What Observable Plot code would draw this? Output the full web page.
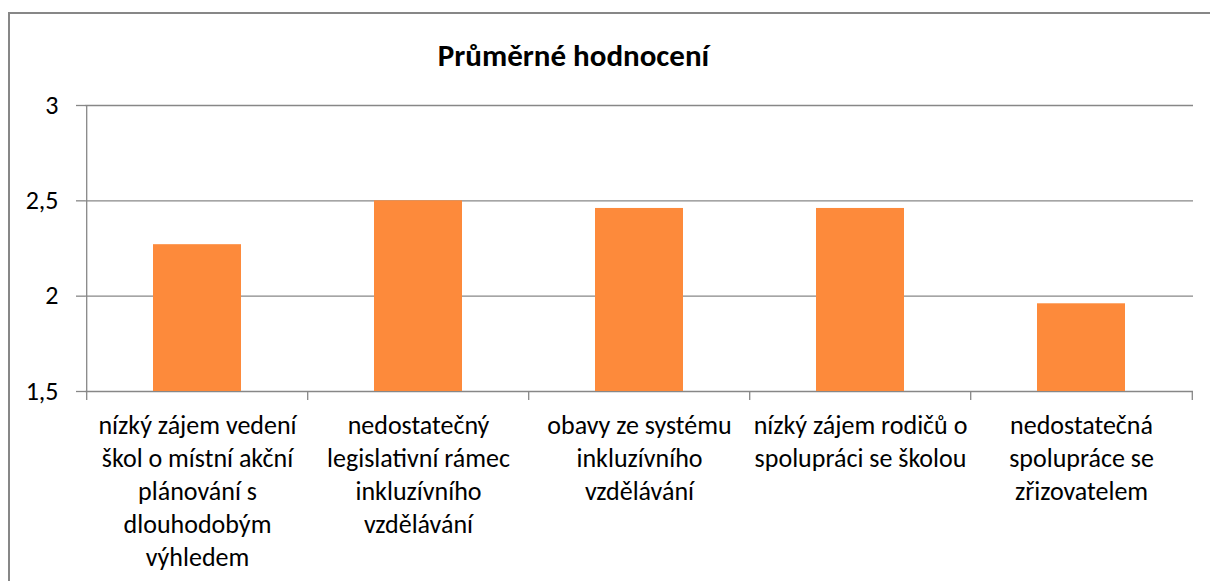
<!DOCTYPE html>
<html><head><meta charset="utf-8">
<script src="https://cdn.jsdelivr.net/npm/d3@7"></script>
<script src="https://cdn.jsdelivr.net/npm/@observablehq/plot@0.6"></script>
<style>
html,body{margin:0;padding:0;background:#fff;overflow:hidden}
#wrap{position:relative;width:1210px;height:581px;overflow:hidden;font-family:Carlito, Lato, sans-serif}
#border{position:absolute;left:8px;top:12px;width:1400px;height:800px;border:2px solid #878787;box-sizing:border-box}
#title{position:relative;height:85px}
#title span{position:absolute;left:0;width:1147px;text-align:center;top:40px;font-size:31px;line-height:31px;font-weight:bold;color:#000}
#chart{position:relative}
</style>
</head><body>
<div id="wrap">
<div id="border"></div>
<div id="title"><span>Průměrné hodnocení</span></div>
<div id="chart"></div>
</div>
<script>
const categories = [
  "nízký zájem vedení škol o místní akční plánování s dlouhodobým výhledem",
  "nedostatečný legislativní rámec inkluzívního vzdělávání",
  "obavy ze systému inkluzívního vzdělávání",
  "nízký zájem rodičů o spolupráci se školou",
  "nedostatečná spolupráce se zřizovatelem"
];
const labels = [
  "nízký zájem vedení\nškol o místní akční\nplánování s\ndlouhodobým\nvýhledem",
  "nedostatečný\nlegislativní rámec\ninkluzívního\nvzdělávání",
  "obavy ze systému\ninkluzívního\nvzdělávání",
  "nízký zájem rodičů o\nspolupráci se školou",
  "nedostatečná\nspolupráce se\nzřizovatelem"
];
const values = [2.27, 2.5, 2.46, 2.46, 1.96];
const yTicks = [1.5, 2, 2.5, 3];
const yDomain = [1.5, 3];

const data = categories.map((c, i) => ({category: c, value: values[i], label: labels[i]}));

const W = 1210, H = 496, mL = 85, mR = 17, mT = 20, mB = 190;
const step = (W - mL - mR) / categories.length;
const grid = "#878787";
const fs = 26;
const fmt = d => String(d).replace(".", ",");

const chart = Plot.plot({
  width: W, height: H,
  marginLeft: mL, marginRight: mR, marginTop: mT, marginBottom: mB,
  style: {fontFamily: "Carlito, Lato, sans-serif", fontSize: fs + "px", color: "#000", background: "transparent", overflow: "visible"},
  x: {domain: categories, paddingInner: 0.6, paddingOuter: 0.3, axis: null},
  y: {domain: yDomain, axis: null},
  marks: [
    Plot.ruleY(yTicks, {stroke: grid, strokeWidth: 1.3}),
    Plot.axisY(yTicks, {tickSize: 9, tickPadding: 18, stroke: grid, strokeWidth: 1.3, tickFormat: fmt, fill: "#000", fontSize: fs, label: null}),
    Plot.barY(data, {x: "category", y1: yDomain[0], y2: "value", fill: "#fd8a3b"}),
    Plot.ruleX(categories, {x: d => d, y1: yDomain[0], y2: yDomain[0], insetBottom: -9, dx: -step / 2, stroke: grid, strokeWidth: 1.3}),
    Plot.ruleX(categories.slice(-1), {x: d => d, y1: yDomain[0], y2: yDomain[0], insetBottom: -9, dx: step / 2, stroke: grid, strokeWidth: 1.3}),
    Plot.ruleX(categories.slice(0, 1), {x: d => d, y1: yDomain[1], y2: yDomain[0], dx: -step / 2, stroke: grid, strokeWidth: 1.3}),
    Plot.text(data, {x: "category", frameAnchor: "bottom", text: "label", lineAnchor: "top", lineHeight: 33 / fs, dy: 18.6, fontSize: fs, fill: "#000"})
  ]
});
document.getElementById("chart").appendChild(chart);
</script>
</body></html>
